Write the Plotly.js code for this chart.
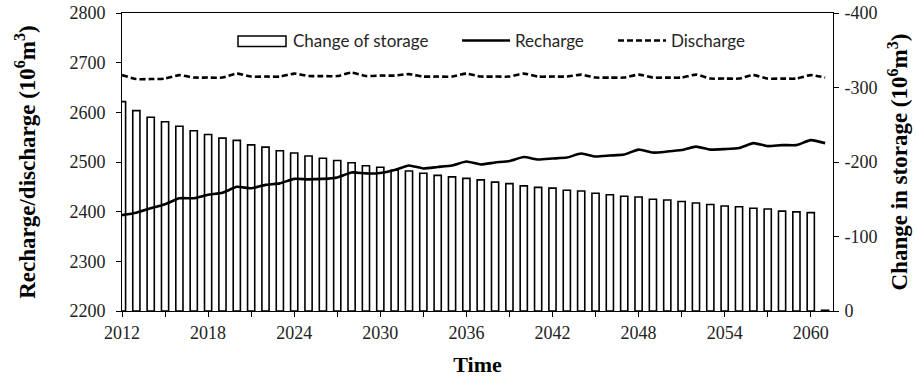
<!DOCTYPE html>
<html>
<head>
<meta charset="utf-8">
<script src="https://cdn.plot.ly/plotly-3.0.1.min.js"></script>
<style>
  html, body { margin: 0; padding: 0; background: #fff; }
  #chart { width: 916px; height: 380px; }
</style>
</head>
<body>
<div id="chart"></div>
<script>
// ---- data ----
const years = [2012,2013,2014,2015,2016,2017,2018,2019,2020,2021,
               2022,2023,2024,2025,2026,2027,2028,2029,2030,2031,
               2032,2033,2034,2035,2036,2037,2038,2039,2040,2041,
               2042,2043,2044,2045,2046,2047,2048,2049,2050,2051,
               2052,2053,2054,2055,2056,2057,2058,2059,2060,2061];

const changeOfStorage = [-281,-269,-260,-254,-248,-242,-237,-232,-229,-223,
                         -220,-215,-212,-208,-205,-202,-199,-195,-193,-189,
                         -188,-185,-182,-180,-178,-176,-173,-171,-168,-166,
                         -165,-162,-161,-158,-156,-154,-153,-150,-149,-147,
                         -145,-143,-141,-140,-138,-137,-134,-133,-132,-1];

const recharge = [2393,2398,2407,2415,2427,2427,2434,2438,2450,2447,
                  2454,2457,2466,2465,2466,2469,2479,2477,2478,2484,
                  2493,2487,2490,2493,2501,2495,2499,2502,2510,2505,
                  2507,2509,2517,2511,2513,2515,2525,2519,2521,2524,
                  2531,2525,2526,2528,2538,2532,2534,2534,2544,2538];

const discharge = [2675,2667,2667,2668,2675,2670,2670,2670,2678,2672,
                   2672,2672,2678,2673,2673,2673,2680,2673,2674,2674,
                   2677,2672,2672,2672,2678,2672,2672,2672,2678,2672,
                   2672,2672,2676,2670,2670,2670,2676,2670,2670,2670,
                   2676,2668,2668,2668,2675,2668,2668,2668,2675,2670];

const xTickVals = [2012,2018,2024,2030,2036,2042,2048,2054,2060];
const leftTickVals = [2200,2300,2400,2500,2600,2700,2800];
const rightTickVals = [0,-100,-200,-300,-400];
const rightTickText = ['0','-100','-200','-300','-400'];
const storageLegendLabel = 'Change of storage';

// ---- traces ----
const serif = 'Liberation Serif, Times New Roman, serif';
const sans = 'Lato, Noto Sans, sans-serif';
const legendFont = { family: sans, size: 17, color: '#262626' };

const traces = [
  {
    type: 'bar', name: storageLegendLabel, x: years, y: changeOfStorage,
    yaxis: 'y', width: 0.5, showlegend: false,
    marker: { color: '#ffffff', line: { color: '#000000', width: 1.6 } }
  },
  {
    type: 'scatter', mode: 'lines', name: 'Recharge', x: years, y: recharge,
    yaxis: 'y2', legend: 'legend',
    line: { color: '#000000', width: 2.6, shape: 'spline', smoothing: 0.5 }
  },
  {
    type: 'scatter', mode: 'lines', name: 'Discharge', x: years, y: discharge,
    yaxis: 'y2', legend: 'legend2',
    line: { color: '#000000', width: 2.6, dash: '6px,3px', shape: 'spline', smoothing: 0.5 }
  }
];

const legY = 1 - (41 - 13) / 298;

const layout = {
  width: 916, height: 380,
  margin: { l: 122, r: 83, t: 13, b: 69 },
  paper_bgcolor: '#ffffff', plot_bgcolor: '#ffffff',
  showlegend: true,
  legend: {
    orientation: 'h', x: 0.4712, y: legY, xanchor: 'left', yanchor: 'middle',
    bgcolor: 'rgba(0,0,0,0)', font: legendFont, itemwidth: 48
  },
  legend2: {
    orientation: 'h', x: 0.6906, y: legY, xanchor: 'left', yanchor: 'middle',
    bgcolor: 'rgba(0,0,0,0)', font: legendFont, itemwidth: 48
  },
  shapes: [
    { type: 'rect', xref: 'paper', yref: 'paper',
      x0: (238 - 122) / 711, x1: (286 - 122) / 711,
      y0: 1 - (46.5 - 13) / 298, y1: 1 - (36 - 13) / 298,
      line: { color: '#000', width: 1.5 }, fillcolor: '#fff' }
  ],
  annotations: [
    { xref: 'paper', yref: 'paper', x: (291 - 122) / 711, y: legY,
      xanchor: 'left', yanchor: 'middle', showarrow: false,
      text: storageLegendLabel, font: legendFont }
  ],
  xaxis: {
    type: 'linear', range: [2012, 2061.55],
    tickmode: 'array', tickvals: xTickVals,
    ticks: 'outside', ticklen: 5, tickwidth: 1, tickcolor: '#000',
    minor: { tick0: 2012, dtick: 3, ticks: 'outside', ticklen: 5, tickwidth: 1, tickcolor: '#000', showgrid: false },
    showline: true, linecolor: '#000', linewidth: 1, mirror: true,
    showgrid: false, zeroline: false,
    tickfont: { family: serif, size: 18, color: '#222' },
    title: { text: 'Time', font: { family: serif, size: 22, color: '#000', weight: 'bold' }, standoff: 15 },
    automargin: false
  },
  yaxis: {
    side: 'right', range: [0, -400],
    tickvals: rightTickVals, ticktext: rightTickText,
    ticks: 'outside', ticklen: 5, tickwidth: 1, tickcolor: '#000',
    ticklabelstandoff: 2,
    showline: true, linecolor: '#000', linewidth: 1,
    showgrid: false, zeroline: false,
    tickfont: { family: serif, size: 18, color: '#222' },
    title: { text: 'Change in storage (10<sup>6</sup>m<sup>3</sup>)', font: { family: serif, size: 23, color: '#000', weight: 'bold' }, standoff: 14 },
    automargin: false
  },
  yaxis2: {
    side: 'left', overlaying: 'y', range: [2200, 2800],
    tickvals: leftTickVals,
    ticks: 'outside', ticklen: 5, tickwidth: 1, tickcolor: '#000',
    ticklabelstandoff: 7,
    showline: true, linecolor: '#000', linewidth: 1,
    showgrid: false, zeroline: false,
    tickfont: { family: serif, size: 18, color: '#222' },
    title: { text: 'Recharge/discharge (10<sup>6</sup>m<sup>3</sup>)', font: { family: serif, size: 23, color: '#000', weight: 'bold' }, standoff: 27 },
    automargin: false
  }
};

Plotly.newPlot('chart', traces, layout, { displayModeBar: false, staticPlot: true });
</script>
</body>
</html>
